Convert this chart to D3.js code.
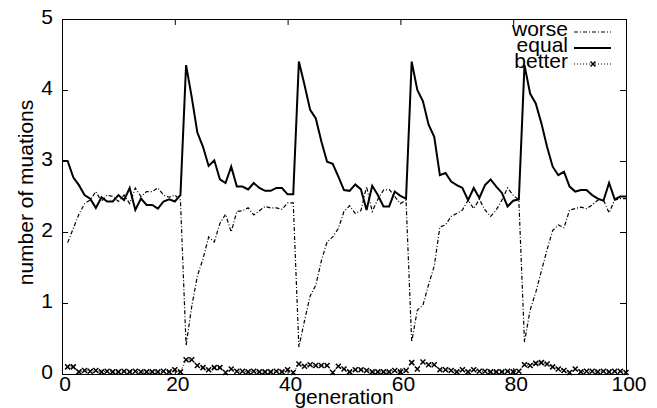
<!DOCTYPE html>
<html>
<head>
<meta charset="utf-8">
<script src="https://cdn.jsdelivr.net/npm/d3@7/dist/d3.min.js"></script>
<style>
  html, body { margin: 0; padding: 0; background: #fff; }
  svg { display: block; }
  text { font-family: "Liberation Sans", Arial, Helvetica, sans-serif; fill: #000; }
</style>
</head>
<body>
<svg id="chart" width="657" height="408"></svg>
<script>
const generations = [0,1,2,3,4,5,6,7,8,9,10,11,12,13,14,15,16,17,18,19,20,
  21,22,23,24,25,26,27,28,29,30,31,32,33,34,35,36,37,38,39,40,
  41,42,43,44,45,46,47,48,49,50,51,52,53,54,55,56,57,58,59,60,
  61,62,63,64,65,66,67,68,69,70,71,72,73,74,75,76,77,78,79,80,
  81,82,83,84,85,86,87,88,89,90,91,92,93,94,95,96,97,98,99,100];

const worse = [null,
  1.85,2.05,2.25,2.40,2.45,2.57,2.43,2.52,2.50,2.43,2.52,2.40,2.62,2.50,2.57,2.57,2.62,2.52,2.49,2.52,
  2.45,0.40,0.95,1.38,1.62,1.93,1.86,2.12,2.25,2.00,2.29,2.30,2.34,2.24,2.30,2.36,2.34,2.34,2.32,2.41,
  2.41,0.38,0.75,1.10,1.25,1.60,1.86,1.93,2.05,2.29,2.37,2.26,2.30,2.64,2.29,2.46,2.59,2.60,2.50,2.40,
  2.45,0.45,0.90,0.97,1.26,1.52,2.07,2.10,2.22,2.26,2.31,2.45,2.33,2.46,2.31,2.22,2.31,2.45,2.62,2.52,
  2.45,0.45,0.90,1.15,1.45,1.75,2.02,2.10,2.06,2.31,2.33,2.35,2.33,2.38,2.45,2.45,2.27,2.45,2.47,2.47];

const equal = [3.00,
  3.00,2.77,2.66,2.52,2.47,2.34,2.49,2.43,2.43,2.52,2.45,2.62,2.31,2.47,2.38,2.38,2.33,2.43,2.46,2.43,
  2.52,4.35,3.90,3.40,3.20,2.93,3.01,2.74,2.69,2.92,2.64,2.64,2.60,2.69,2.62,2.58,2.58,2.62,2.62,2.53,
  2.53,4.40,4.07,3.72,3.60,3.27,2.99,2.96,2.78,2.59,2.58,2.67,2.60,2.31,2.65,2.52,2.36,2.36,2.57,2.51,
  2.47,4.40,4.00,3.84,3.51,3.34,2.80,2.83,2.71,2.66,2.62,2.45,2.62,2.48,2.66,2.74,2.64,2.55,2.36,2.44,
  2.46,4.35,3.95,3.81,3.53,3.20,2.92,2.80,2.85,2.64,2.57,2.59,2.59,2.52,2.47,2.44,2.69,2.46,2.50,2.50];

const better = [null,
  0.10,0.10,0.03,0.05,0.04,0.05,0.03,0.04,0.03,0.03,0.04,0.03,0.04,0.03,0.03,0.03,0.03,0.04,0.03,0.06,
  0.03,0.20,0.20,0.12,0.09,0.06,0.09,0.09,0.02,0.07,0.04,0.04,0.03,0.04,0.03,0.03,0.03,0.04,0.03,0.06,
  0.02,0.14,0.11,0.13,0.12,0.12,0.12,0.02,0.11,0.07,0.03,0.06,0.06,0.05,0.03,0.03,0.03,0.03,0.05,0.03,
  0.05,0.16,0.07,0.17,0.13,0.13,0.06,0.06,0.05,0.03,0.06,0.03,0.06,0.04,0.04,0.03,0.03,0.03,0.04,0.03,
  0.04,0.13,0.12,0.15,0.16,0.14,0.10,0.07,0.05,0.02,0.07,0.03,0.04,0.04,0.03,0.04,0.03,0.04,0.04,0.02];

const xTicks = [0, 20, 40, 60, 80, 100];
const yTicks = [0, 1, 2, 3, 4, 5];
const seriesNames = ["worse", "equal", "better"];
const xTitle = "generation";
const yTitle = "number of muations";

const svg = d3.select("#chart");
const pL = 62, pR = 626, pT = 19, pB = 374;
const x = d3.scaleLinear().domain([0, 100]).range([pL, pR]);
const y = d3.scaleLinear().domain([0, 5]).range([pB, pT]);

const FS = 21;
const fmt = d3.format("d");

// axes with inward ticks
const gB = svg.append("g").attr("transform", `translate(0,${pB})`)
  .call(d3.axisBottom(x).tickValues(xTicks).tickFormat(fmt).tickSizeInner(-6).tickSizeOuter(0).tickPadding(2));
const gL = svg.append("g").attr("transform", `translate(${pL},0)`)
  .call(d3.axisLeft(y).tickValues(yTicks).tickFormat(fmt).tickSizeInner(-6).tickSizeOuter(0).tickPadding(9));
const gT = svg.append("g").attr("transform", `translate(0,${pT})`)
  .call(d3.axisTop(x).tickValues(xTicks).tickSizeInner(-6).tickSizeOuter(0).tickFormat(""));
const gR = svg.append("g").attr("transform", `translate(${pR},0)`)
  .call(d3.axisRight(y).tickValues(yTicks).tickSizeInner(-6).tickSizeOuter(0).tickFormat(""));

[gB, gL, gT, gR].forEach(g => {
  g.select(".domain").remove();
  g.selectAll(".tick line").attr("stroke", "#000").attr("stroke-width", 1);
  g.selectAll("text").attr("font-size", FS).attr("fill", "#000");
  g.attr("font-family", null).attr("font-size", null);
});
gB.selectAll("text").attr("dx", 2.5);
gL.selectAll("text").attr("dy", "0.2em");

// frame
svg.append("rect")
  .attr("x", pL + 0.5).attr("y", pT + 0.5)
  .attr("width", pR - pL).attr("height", pB - pT)
  .attr("fill", "none").attr("stroke", "#000").attr("stroke-width", 1);

// axis titles
svg.append("text")
  .attr("x", (pL + pR) / 2).attr("y", 404)
  .attr("text-anchor", "middle").attr("font-size", FS)
  .text(xTitle);
svg.append("text")
  .attr("transform", `translate(33,${(pT + pB) / 2 - 4}) rotate(-90)`)
  .attr("text-anchor", "middle").attr("font-size", FS)
  .text(yTitle);

const line = d3.line()
  .defined(d => d[1] !== null)
  .x(d => x(d[0])).y(d => y(d[1]));

const zip = arr => generations.map((g, i) => [g, arr[i]]);

const plot = svg.append("g");

// worse: dash-dot
plot.append("path").datum(zip(worse))
  .attr("d", line).attr("fill", "none").attr("stroke", "#000")
  .attr("stroke-width", 1.2).attr("stroke-dasharray", "4,2,1,2");

// equal: solid
plot.append("path").datum(zip(equal))
  .attr("d", line).attr("fill", "none").attr("stroke", "#000")
  .attr("stroke-width", 2).attr("stroke-linejoin", "miter");

// better: dotted with x markers
plot.append("path").datum(zip(better))
  .attr("d", line).attr("fill", "none").attr("stroke", "#000")
  .attr("stroke-width", 1).attr("stroke-dasharray", "1,2");

const s = 2.5;
const crossPath = (cx, cy) => `M${cx - s},${cy - s}L${cx + s},${cy + s}M${cx - s},${cy + s}L${cx + s},${cy - s}`;
plot.append("g").selectAll("path")
  .data(zip(better).filter(d => d[1] !== null))
  .join("path")
  .attr("d", d => crossPath(x(d[0]), y(d[1])))
  .attr("stroke", "#000").attr("stroke-width", 1.5).attr("fill", "none");

// legend
const legend = svg.append("g");
const legY = [36, 52, 68];
const styles = [
  { w: 1.2, dash: "4,2,1,2" },
  { w: 2, dash: null },
  { w: 1, dash: "1,2" }
];
seriesNames.forEach((name, i) => {
  legend.append("text")
    .attr("x", 568).attr("y", legY[i])
    .attr("text-anchor", "end").attr("font-size", FS)
    .text(name);
  const ly = legY[i] - 4;
  legend.append("line")
    .attr("x1", 574).attr("x2", 611).attr("y1", ly).attr("y2", ly)
    .attr("stroke", "#000").attr("stroke-width", styles[i].w)
    .attr("stroke-dasharray", styles[i].dash);
  if (i === 2) {
    legend.append("path").attr("d", crossPath(593, ly))
      .attr("stroke", "#000").attr("stroke-width", 1.5).attr("fill", "none");
  }
});
</script>
</body>
</html>
